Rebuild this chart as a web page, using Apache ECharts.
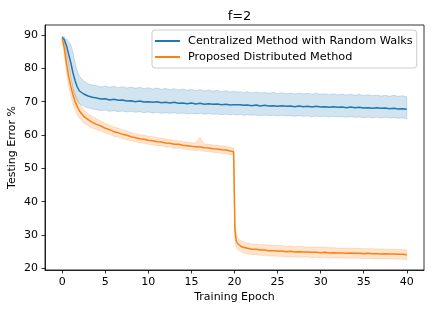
<!DOCTYPE html>
<html>
<head>
<meta charset="utf-8">
<script src="https://cdn.jsdelivr.net/npm/echarts@6/dist/echarts.min.js"></script>
<style>
html,body{margin:0;padding:0;background:#fff;}
#chart{width:436px;height:313px;}
</style>
</head>
<body>
<div id="chart"></div>
<script>
const epochs = [
  0, 0.25, 0.5, 0.75, 1, 1.25, 1.5, 1.75, 2, 2.5,
  3, 3.5, 4, 4.5, 5, 5.5, 6, 6.5, 7, 7.5,
  8, 8.5, 9, 9.5, 10, 10.5, 11, 11.5, 12, 12.5,
  13, 13.5, 14, 14.5, 15, 15.5, 16, 16.5, 17, 17.5,
  18, 18.5, 19, 19.5, 19.9, 20.05, 20.2, 20.4, 20.7, 21,
  21.5, 22, 22.5, 23, 23.5, 24, 24.5, 25, 25.5, 26,
  26.5, 27, 27.5, 28, 28.5, 29, 29.5, 30, 30.5, 31,
  31.5, 32, 32.5, 33, 33.5, 34, 34.5, 35, 35.5, 36,
  36.5, 37, 37.5, 38, 38.5, 39, 39.5, 40
];

const centralMean = [
  89.3, 88.6, 86.8, 84.2, 81.6, 78.6, 76.2, 74.4, 73.2, 72.3,
  71.7, 71.3, 71.1, 70.8, 70.9, 70.5, 70.7, 70.4, 70.5, 70.2,
  70.3, 70.0, 70.2, 69.9, 70.0, 69.8, 70.0, 69.7, 69.8, 69.6,
  69.8, 69.5, 69.6, 69.4, 69.6, 69.3, 69.5, 69.2, 69.4, 69.2,
  69.3, 69.1, 69.2, 69.0, 69.1, 68.9, 69.1, 69.0, 69.1, 68.9,
  69.0, 68.8, 69.0, 68.7, 68.9, 68.7, 68.8, 68.6, 68.8, 68.6,
  68.7, 68.5, 68.7, 68.5, 68.6, 68.4, 68.6, 68.4, 68.5, 68.3,
  68.5, 68.3, 68.4, 68.2, 68.4, 68.2, 68.3, 68.1, 68.2, 68.0,
  68.2, 68.0, 68.1, 67.9, 68.0, 67.8, 67.9, 67.7
];
const centralUpper = [
  89.6, 89.4, 88.8, 88.0, 87.0, 84.8, 81.5, 79.2, 77.6, 76.2,
  75.4, 75.0, 74.8, 74.4, 74.7, 74.3, 74.6, 74.2, 74.5, 74.1,
  74.4, 74.0, 74.3, 73.9, 74.2, 73.8, 74.1, 73.7, 74.0, 73.6,
  73.9, 73.5, 73.8, 73.4, 73.7, 73.3, 73.6, 73.2, 73.5, 73.1,
  73.4, 73.0, 73.3, 72.9, 73.2, 72.8, 73.1, 72.9, 73.0, 72.7,
  73.0, 72.6, 72.9, 72.6, 72.8, 72.5, 72.8, 72.4, 72.7, 72.4,
  72.6, 72.3, 72.6, 72.3, 72.5, 72.2, 72.5, 72.2, 72.4, 72.1,
  72.4, 72.0, 72.3, 72.0, 72.2, 71.9, 72.2, 71.8, 72.1, 71.8,
  72.0, 71.7, 71.9, 71.6, 71.9, 71.6, 71.8, 71.5
];
const centralLower = [
  89.0, 87.6, 84.6, 81.0, 77.2, 73.6, 71.4, 70.2, 69.4, 68.6,
  68.1, 67.8, 67.6, 67.3, 67.5, 67.1, 67.3, 67.0, 67.2, 66.9,
  67.1, 66.8, 67.0, 66.7, 66.9, 66.6, 66.8, 66.5, 66.7, 66.5,
  66.7, 66.4, 66.6, 66.3, 66.5, 66.3, 66.5, 66.2, 66.4, 66.2,
  66.3, 66.1, 66.3, 66.0, 66.2, 66.0, 66.1, 66.0, 66.2, 65.9,
  66.1, 65.9, 66.0, 65.8, 66.0, 65.8, 65.9, 65.7, 65.9, 65.7,
  65.8, 65.6, 65.8, 65.6, 65.7, 65.5, 65.7, 65.5, 65.6, 65.4,
  65.6, 65.4, 65.5, 65.3, 65.5, 65.3, 65.4, 65.2, 65.4, 65.2,
  65.3, 65.1, 65.3, 65.1, 65.2, 65.0, 65.1, 64.9
];

const proposedMean = [
  89.0, 86.0, 81.5, 77.5, 74.5, 72.0, 70.0, 68.5, 67.2, 65.6,
  64.6, 63.8, 63.2, 62.7, 62.0, 61.6, 61.0, 60.7, 60.2, 59.9,
  59.5, 59.2, 58.9, 58.7, 58.4, 58.3, 58.0, 57.9, 57.6, 57.5,
  57.2, 57.2, 56.9, 56.8, 56.6, 56.5, 56.4, 56.2, 56.1, 55.9,
  55.8, 55.6, 55.5, 55.2, 55.0, 31.5, 28.2, 27.3, 26.7, 26.3,
  26.0, 25.7, 25.7, 25.5, 25.5, 25.3, 25.3, 25.2, 25.2, 25.0,
  25.1, 24.9, 25.0, 24.9, 24.9, 24.8, 24.8, 24.7, 24.8, 24.6,
  24.7, 24.6, 24.6, 24.5, 24.6, 24.5, 24.5, 24.4, 24.5, 24.4,
  24.4, 24.3, 24.4, 24.3, 24.3, 24.2, 24.2, 24.1
];
const proposedUpper = [
  89.5, 88.2, 84.5, 80.5, 77.3, 74.6, 72.4, 70.8, 69.4, 67.6,
  66.4, 65.5, 64.8, 64.2, 63.5, 63.0, 62.4, 62.0, 61.5, 61.2,
  60.7, 60.4, 60.1, 59.9, 59.6, 59.5, 59.2, 59.0, 58.8, 58.6,
  58.4, 58.3, 58.0, 57.9, 57.7, 57.6, 59.3, 57.3, 57.2, 57.0,
  56.9, 56.7, 56.6, 56.3, 56.0, 34.0, 30.2, 29.0, 28.3, 27.9,
  27.6, 27.3, 27.3, 27.1, 27.1, 26.9, 26.9, 26.8, 26.8, 26.6,
  26.7, 26.5, 26.6, 26.5, 26.4, 26.4, 26.3, 26.3, 26.3, 26.2,
  26.2, 26.1, 26.1, 26.0, 26.1, 26.0, 26.0, 25.9, 25.9, 25.9,
  25.8, 25.8, 25.8, 25.7, 25.7, 25.7, 25.6, 25.6
];
const proposedLower = [
  88.6, 83.8, 78.5, 74.6, 71.8, 69.4, 67.6, 66.2, 65.0, 63.6,
  62.8, 62.1, 61.6, 61.2, 60.5, 60.2, 59.6, 59.4, 58.9, 58.6,
  58.3, 58.0, 57.7, 57.5, 57.2, 57.1, 56.8, 56.8, 56.4, 56.4,
  56.0, 56.1, 55.8, 55.7, 55.5, 55.4, 55.4, 55.1, 55.0, 54.8,
  54.7, 54.5, 54.4, 54.1, 53.9, 29.0, 26.2, 25.6, 25.1, 24.7,
  24.4, 24.1, 24.1, 23.9, 23.9, 23.7, 23.7, 23.6, 23.6, 23.4,
  23.5, 23.3, 23.4, 23.3, 23.4, 23.2, 23.3, 23.1, 23.3, 23.0,
  23.2, 23.1, 23.1, 23.0, 23.1, 23.0, 23.0, 22.9, 23.0, 22.9,
  22.9, 22.8, 22.9, 22.8, 22.8, 22.7, 22.8, 22.6
];

const xTicks = [0, 5, 10, 15, 20, 25, 30, 35, 40];
const yTicks = [20, 30, 40, 50, 60, 70, 80, 90];
const seriesNames = ['Centralized Method with Random Walks', 'Proposed Distributed Method'];

const BLUE = '#1f77b4', ORANGE = '#ff7f0e';
const FONT = '"DejaVu Sans"';
const FS = 11;

function bandSeries(lower, upper, fill) {
  return {
    type: 'custom',
    silent: true,
    z: 1,
    data: epochs.map((e, i) => [e, lower[i], upper[i]]),
    encode: { x: 0, y: [1, 2] },
    renderItem: function (params, api) {
      if (params.dataIndex !== 0) return;
      const pts = [];
      for (let i = 0; i < epochs.length; i++) pts.push(api.coord([epochs[i], upper[i]]));
      for (let i = epochs.length - 1; i >= 0; i--) pts.push(api.coord([epochs[i], lower[i]]));
      return { type: 'polygon', shape: { points: pts }, style: { fill: fill, stroke: fill, lineWidth: 1 } };
    }
  };
}

const chart = echarts.init(document.getElementById('chart'), null, { renderer: 'canvas' });
chart.setOption({
  animation: false,
  backgroundColor: '#fff',
  textStyle: { fontFamily: FONT },
  title: {
    text: 'f=2', left: 234.5, textAlign: 'center', top: 5,
    textStyle: { fontFamily: FONT, fontSize: 13, fontWeight: 'normal', color: '#000' }
  },
  legend: {
    orient: 'vertical', left: 152, top: 30,
    padding: [5, 4, 5, 3],
    backgroundColor: 'rgba(255,255,255,0.8)', borderColor: '#cccccc', borderWidth: 1, borderRadius: 3,
    itemWidth: 25, itemHeight: 2, itemGap: 4,
    icon: 'rect',
    textStyle: { fontFamily: FONT, fontSize: 11.3, color: '#000', lineHeight: 12, padding: [0, 0, 0, 3] },
    data: [{ name: seriesNames[0], itemStyle: { color: BLUE } }, { name: seriesNames[1], itemStyle: { color: ORANGE } }]
  },
  grid: {
    left: 45, right: 12, top: 25, bottom: 43, containLabel: false, outerBoundsMode: 'none',
    show: true, borderColor: '#000', borderWidth: 0.8, backgroundColor: 'transparent'
  },
  xAxis: {
    type: 'value', min: -2, max: 42,
    name: 'Training Epoch', nameLocation: 'middle', nameGap: 22, nameMoveOverlap: false,
    nameTextStyle: { fontFamily: FONT, fontSize: FS, color: '#000' },
    axisLine: { show: true, onZero: false, lineStyle: { color: '#000', width: 0.8 } },
    axisTick: { show: true, length: 3.5, lineStyle: { color: '#000', width: 0.8 }, customValues: xTicks },
    axisLabel: { fontFamily: FONT, fontSize: FS, color: '#000', margin: 7, customValues: xTicks },
    splitLine: { show: false }
  },
  yAxis: {
    type: 'value', min: 19.5, max: 93,
    name: 'Testing Error %', nameLocation: 'middle', nameGap: 27, nameRotate: 90, nameMoveOverlap: false,
    nameTextStyle: { fontFamily: FONT, fontSize: FS, color: '#000' },
    axisLine: { show: true, onZero: false, lineStyle: { color: '#000', width: 0.8 } },
    axisTick: { show: true, length: 3.5, lineStyle: { color: '#000', width: 0.8 }, customValues: yTicks },
    axisLabel: { fontFamily: FONT, fontSize: FS, color: '#000', margin: 7, customValues: yTicks },
    splitLine: { show: false }
  },
  series: [
    bandSeries(centralLower, centralUpper, 'rgba(31,119,180,0.2)'),
    bandSeries(proposedLower, proposedUpper, 'rgba(255,127,14,0.2)'),
    {
      name: seriesNames[0], type: 'line', showSymbol: false, z: 3,
      data: epochs.map((e, i) => [e, centralMean[i]]),
      lineStyle: { color: BLUE, width: 1.5 }, itemStyle: { color: BLUE }
    },
    {
      name: seriesNames[1], type: 'line', showSymbol: false, z: 4,
      data: epochs.map((e, i) => [e, proposedMean[i]]),
      lineStyle: { color: ORANGE, width: 1.5 }, itemStyle: { color: ORANGE }
    }
  ]
});
</script>
</body>
</html>
